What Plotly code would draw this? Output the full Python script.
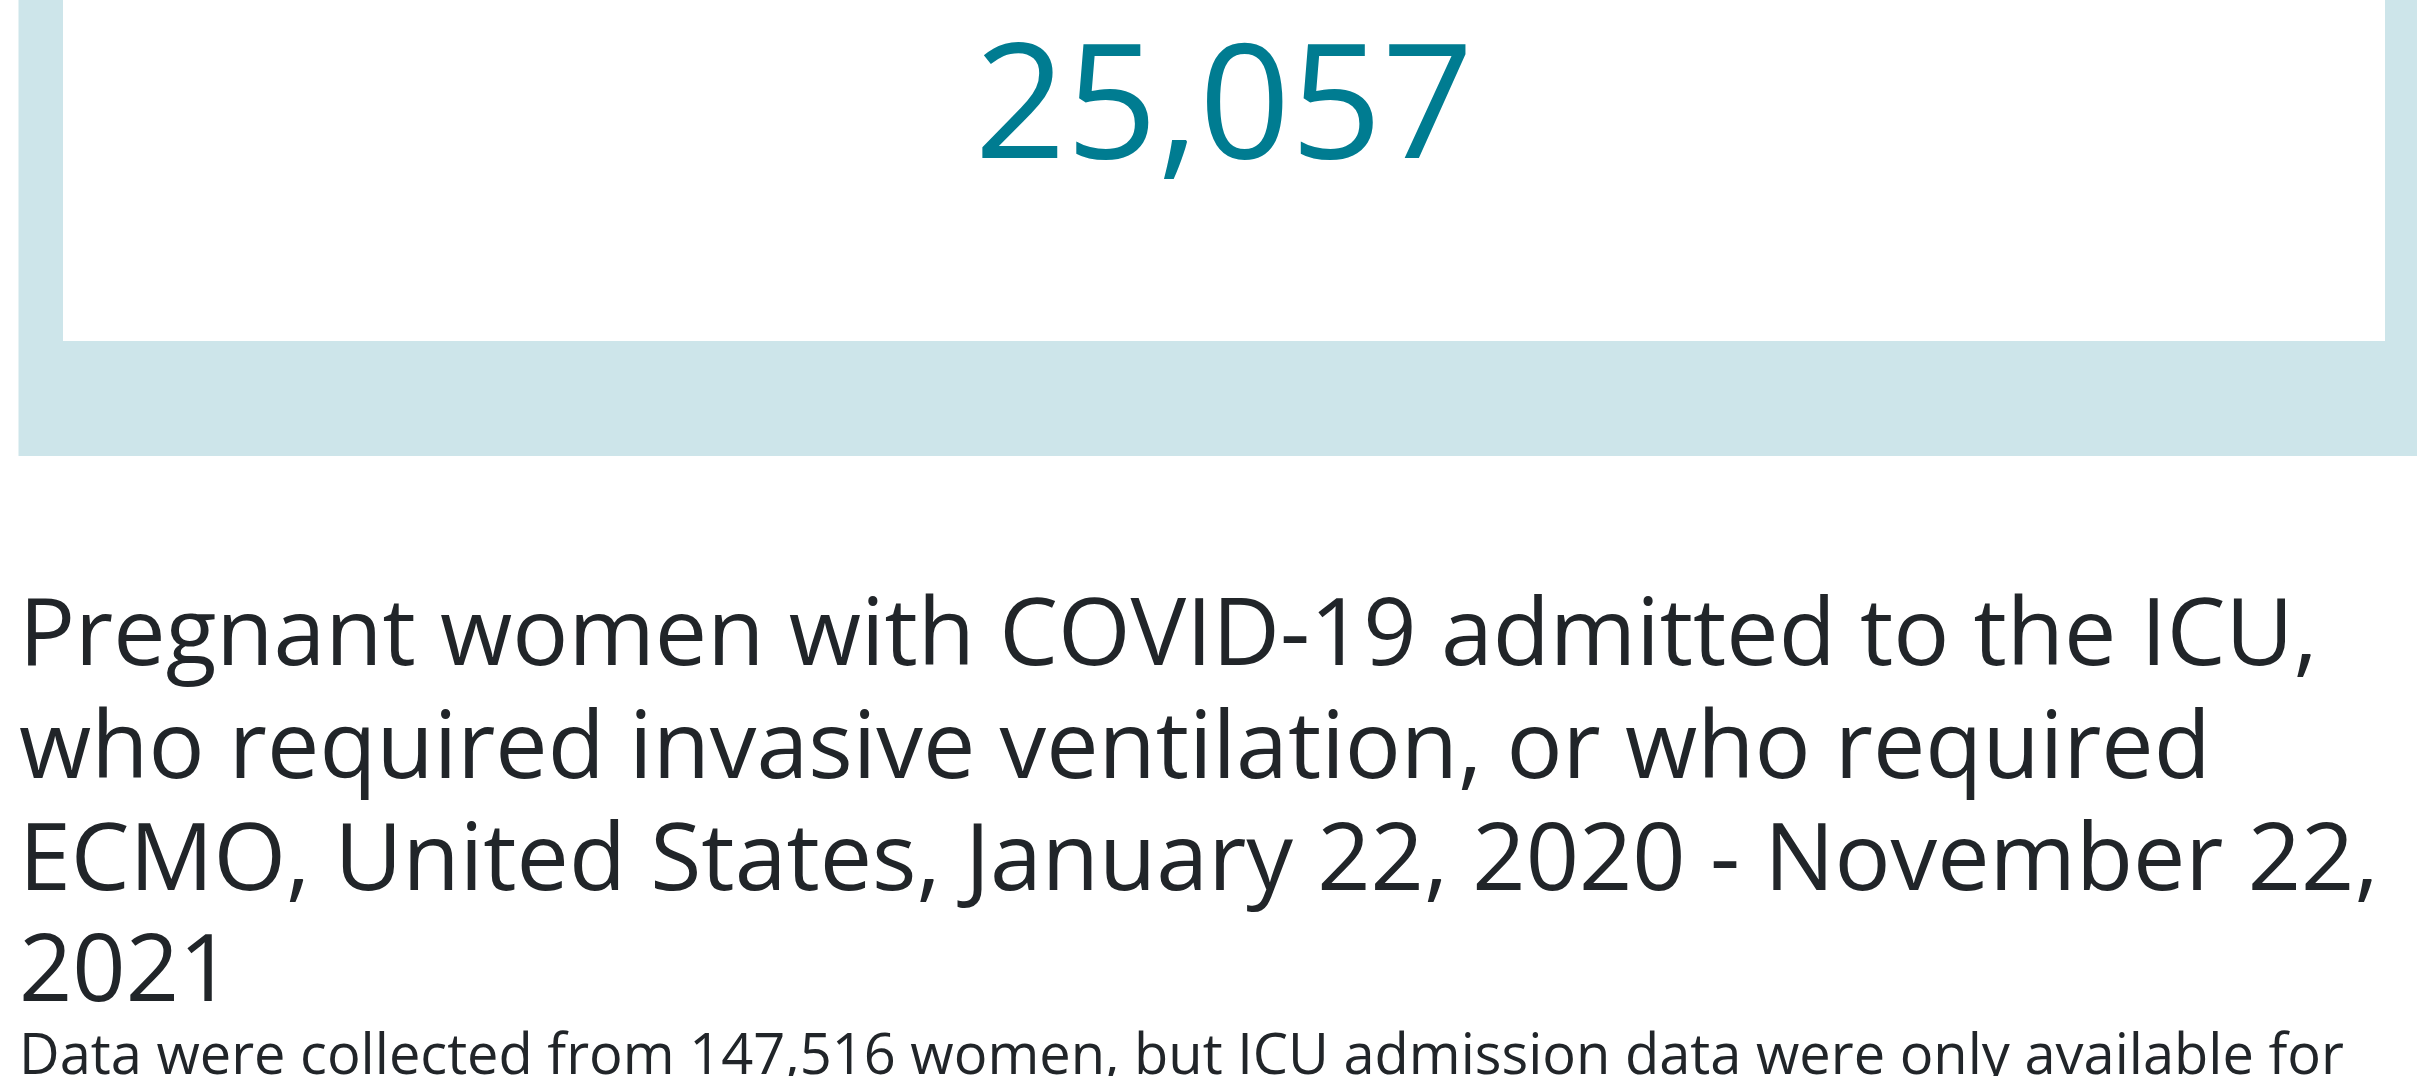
import plotly.graph_objects as go

# ---- data ----
icu_count = 25057
title_lines = [
    "Pregnant women with COVID-19 admitted to the ICU,",
    "who required invasive ventilation, or who required",
    "ECMO, United States, January 22, 2020 - November 22,",
    "2021",
]
subtitle = "Data were collected from 147,516 women, but ICU admission data were only available for"

# ---- style / layout ----
W, H = 2417, 1076
TEAL = "#007c91"
LIGHT = "#cde5ea"
DARK = "#212529"
FONT = "Open Sans"


def px(x):
    return x / W


def py(y):
    return 1 - y / H


fig = go.Figure()

fig.add_trace(go.Indicator(
    mode="number",
    value=icu_count,
    number=dict(valueformat=",", font=dict(family=FONT, size=160, color=TEAL)),
    domain=dict(x=[px(63), px(2385)], y=[py(192), 1]),
))

shapes = [
    dict(type="rect", xref="paper", yref="paper", x0=px(18.5), x1=1.01, y0=py(456), y1=1.02,
         fillcolor=LIGHT, line=dict(width=0), layer="below"),
    dict(type="rect", xref="paper", yref="paper", x0=px(63), x1=px(2385), y0=py(341), y1=1.02,
         fillcolor="white", line=dict(width=0), layer="below"),
]

annotations = []
title_fs = 93.3
baselines = [665, 778, 890, 1001]
for line, b in zip(title_lines, baselines):
    annotations.append(dict(
        text=line, xref="paper", yref="paper", x=px(17), y=py(b - 0.388 * title_fs),
        xanchor="left", yanchor="middle", showarrow=False,
        font=dict(family=FONT, size=title_fs, color=DARK),
    ))
sub_fs = 56
annotations.append(dict(
    text=subtitle, xref="paper", yref="paper", x=px(17), y=py(1074 - 0.388 * sub_fs),
    xanchor="left", yanchor="middle", showarrow=False,
    font=dict(family=FONT, size=sub_fs, color=DARK),
))

fig.update_layout(
    width=W, height=H,
    margin=dict(l=0, r=0, t=0, b=0),
    paper_bgcolor="white", plot_bgcolor="white",
    shapes=shapes, annotations=annotations,
    showlegend=False,
)

fig.write_html(
    "out.html",
    config={"displayModeBar": False},
    post_script="document.body.style.margin='0';document.body.style.overflow='hidden';",
)
